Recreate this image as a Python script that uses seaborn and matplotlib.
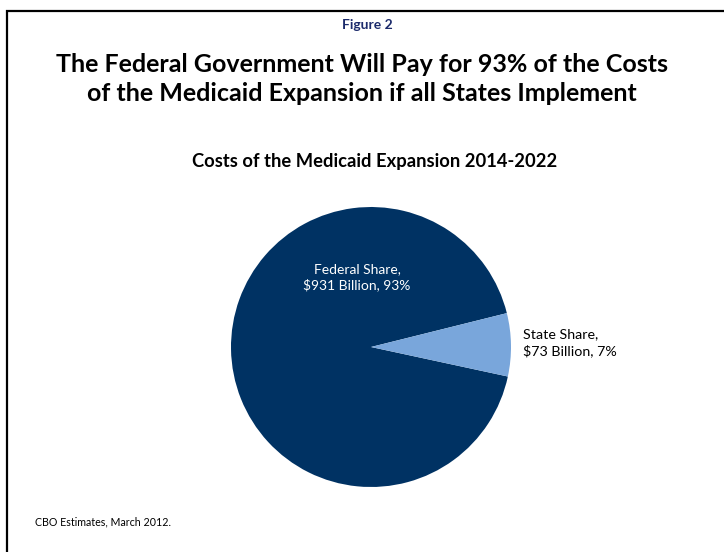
import matplotlib
matplotlib.use("Agg")
import matplotlib.pyplot as plt
import seaborn as sns
from matplotlib.patches import Rectangle

categories = ["Federal Share", "State Share"]
values = [931, 73]          # $ billions
percents = [93, 7]
colors = ["#003263", "#79A6DB"]

sns.set_theme(style="white")
plt.rcParams['font.family'] = ['Lato', 'DejaVu Sans']

fig = plt.figure(figsize=(7.24, 5.52), dpi=100)
fig.patch.set_facecolor("white")

# slide frame
fig.add_artist(Rectangle((7/724, -0.1), 1.2, 1 - 11/552 + 0.1, transform=fig.transFigure,
                         fill=False, edgecolor="black", linewidth=1.6))

ax = fig.add_axes([(371-140)/724, (552-487)/552, 280/724, 280/552])
wedges, _ = ax.pie(values, colors=colors, startangle=14, counterclock=True, radius=1,
                   wedgeprops=dict(linewidth=0))
ax.set_xlim(-1, 1); ax.set_ylim(-1, 1); ax.set_aspect("equal")
ax.axis("off")

ax.text(-0.1, 0.5, f"{categories[0]},\n${values[0]} Billion, {percents[0]}%", color="white",
        ha="center", va="center", fontsize=10, linespacing=1.3)
ax.text(1.085, 0.03, f"{categories[1]},\n${values[1]} Billion, {percents[1]}%", color="black",
        ha="left", va="center", fontsize=10.3, linespacing=1.35)

fig.text(367/724, 1 - 25/552, "Figure 2", ha="center", va="center", fontsize=10,
         fontweight="bold", color="#1B2A6B")
fig.text(362/724, 1 - 79/552,
         "The Federal Government Will Pay for 93% of the Costs\nof the Medicaid Expansion if all States Implement",
         ha="center", va="center", fontsize=18, fontweight="bold", color="black", linespacing=1.35)
fig.text(375/724, 1 - 162/552, "Costs of the Medicaid Expansion 2014-2022", ha="center", va="center",
         fontsize=13.2, fontweight="bold", color="black")
fig.text(35/724, 1 - 522/552, "CBO Estimates, March 2012.", ha="left", va="center",
         fontsize=7.7, color="black")

fig.savefig("out.png", dpi=100, facecolor="white")
